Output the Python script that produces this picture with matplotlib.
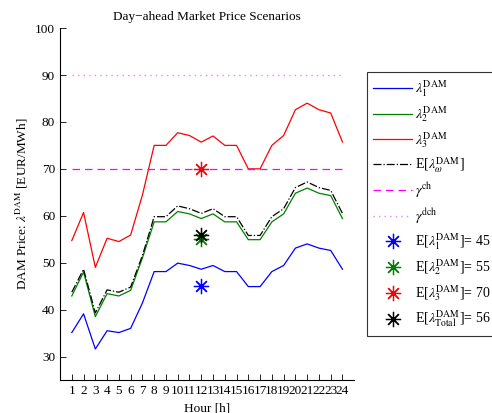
import matplotlib
matplotlib.use("Agg")
import matplotlib.pyplot as plt
import numpy as np

plt.rcParams['font.family'] = ['Liberation Serif', 'DejaVu Serif']
plt.rcParams['mathtext.fontset'] = 'stix'

hours = list(range(1, 25))
lam1 = [35.1, 39.1, 31.6, 35.5, 35.1, 36.0, 41.4, 48.1, 48.1, 49.9, 49.4, 48.6,
        49.4, 48.1, 48.1, 44.9, 44.9, 48.1, 49.4, 53.1, 54.0, 53.1, 52.6, 48.6]
lam2 = [42.9, 48.0, 38.5, 43.4, 42.9, 44.1, 51.0, 58.7, 58.7, 60.9, 60.4, 59.4,
        60.4, 58.7, 58.7, 54.9, 54.9, 58.7, 60.4, 64.8, 65.9, 64.8, 64.3, 59.4]
lam3 = [54.7, 60.7, 49.0, 55.2, 54.5, 55.9, 64.4, 75.0, 75.0, 77.7, 77.1, 75.7,
        77.0, 75.0, 75.0, 70.0, 70.0, 75.0, 77.1, 82.6, 84.0, 82.6, 81.9, 75.7]
lam_exp = [43.7, 48.6, 39.3, 44.2, 43.7, 44.8, 51.5, 59.8, 59.8, 62.1, 61.5, 60.5,
           61.5, 59.8, 59.8, 55.8, 55.8, 59.8, 61.5, 66.0, 67.2, 66.0, 65.4, 60.5]
gamma_ch = 70
gamma_dch = 90
exp_hour = 12
exp_vals = [45, 55, 70, 56]
exp_colors = ['blue', 'green', 'red', 'black']
exp_labels = [r'E[$\lambda_1^{\rm DAM}$]= 45', r'E[$\lambda_2^{\rm DAM}$]= 55',
              r'E[$\lambda_3^{\rm DAM}$]= 70', r'E[$\lambda_{\rm Total}^{\rm DAM}$]= 56']

fig = plt.figure(figsize=(4.92, 4.13), dpi=100)
ax = fig.add_axes([0.122, 0.08, 0.598, 0.852])

ax.plot(hours, lam1, color='blue', lw=0.9, label=r'$\lambda_1^{\rm DAM}$')
ax.plot(hours, lam2, color='green', lw=0.9, label=r'$\lambda_2^{\rm DAM}$')
ax.plot(hours, lam3, color='red', lw=0.9, label=r'$\lambda_3^{\rm DAM}$')
ax.plot(hours, lam_exp, color='black', lw=0.9, ls='-.', label=r'E[$\lambda_\omega^{\rm DAM}$]')
ax.plot(hours, [gamma_ch] * len(hours), color='magenta', lw=0.9, ls=(0, (6, 4)),
        label=r'$\gamma^{\rm ch}$')
ax.plot(hours, [gamma_dch] * len(hours), color='violet', lw=1.0, ls=(0, (1, 3)),
        label=r'$\gamma^{\rm dch}$')
for v, c, lab in zip(exp_vals, exp_colors, exp_labels):
    ax.plot([exp_hour], [v], ls='none', marker=(8, 2, 0), ms=11, mew=0.9,
            color=c, label=lab)

ax.set_xlim(0, 25)
ax.set_ylim(25, 100)
ax.set_xticks(hours)
ax.set_yticks(range(30, 101, 10))
ax.tick_params(direction='in', length=4, width=0.6, labelsize=9.5)
for s in ['top', 'right']:
    ax.spines[s].set_visible(False)
for s in ['left', 'bottom']:
    ax.spines[s].set_linewidth(0.8)

ax.set_title('Day\u2212ahead Market Price Scenarios', fontsize=9.5)
ax.set_xlabel('Hour [h]', fontsize=9.5)
ax.set_ylabel(r'DAM Price: $\lambda^{\rm DAM}$ [EUR/MWh]', fontsize=9.5)

leg = fig.legend(loc='upper left', bbox_to_anchor=(0.746, 0.826), borderaxespad=0,
                 fontsize=10, frameon=True, fancybox=False, edgecolor='black',
                 handlelength=2.8, labelspacing=0.42, borderpad=0.45,
                 handletextpad=0.2)
leg.get_frame().set_linewidth(0.8)

fig.savefig('out.png', dpi=100)
